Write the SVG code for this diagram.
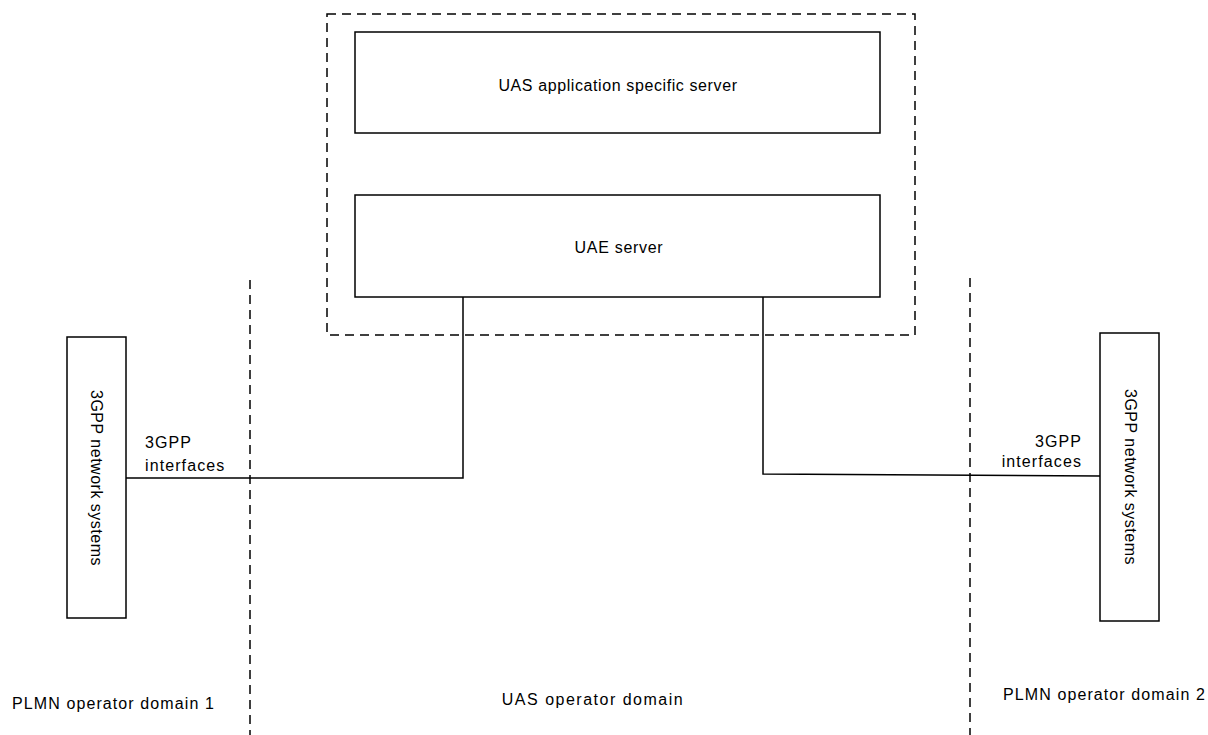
<svg xmlns="http://www.w3.org/2000/svg" width="1208" height="735" viewBox="0 0 1208 735">
<style>
.box{fill:#fff;stroke:#000;stroke-width:1.5}
.dash{fill:none;stroke:#000;stroke-width:1.5;stroke-dasharray:9,6}
.conn{fill:none;stroke:#000;stroke-width:1.5}
text{font-family:"Liberation Sans",Arial,sans-serif;font-size:16px;fill:#000}
.lbl{letter-spacing:1.1px}
.rot{letter-spacing:0.5px}
</style>
<rect width="1208" height="735" fill="#fff"/>
<g id="domains">
<line class="dash" x1="250" y1="280" x2="250" y2="735"/>
<line class="dash" x1="970" y1="278" x2="970" y2="735"/>
<rect id="uas-domain-box" class="dash" x="327" y="14" width="588" height="321"/>
</g>
<g id="connectors">
<polyline class="conn" points="463,297 463,478 126,478"/>
<polyline class="conn" points="763,297 763,474 1100,476"/>
</g>
<g id="uas-app-server">
<rect class="box" x="355" y="32" width="525" height="101"/>
<text x="618" y="91" text-anchor="middle" style="letter-spacing:0.6px">UAS application specific server</text>
</g>
<g id="uae-server">
<rect class="box" x="355" y="195" width="525" height="102"/>
<text x="619" y="253" text-anchor="middle" style="letter-spacing:0.7px">UAE server</text>
</g>
<g id="net-sys-1">
<rect class="box" x="67" y="337" width="59" height="281"/>
<text class="rot" transform="translate(91,478) rotate(90)" text-anchor="middle">3GPP network systems</text>
</g>
<g id="net-sys-2">
<rect class="box" x="1100" y="333" width="59" height="288"/>
<text class="rot" transform="translate(1125,477) rotate(90)" text-anchor="middle">3GPP network systems</text>
</g>
<g id="labels">
<text class="lbl" x="145" y="448">3GPP</text>
<text class="lbl" x="145" y="471">interfaces</text>
<text class="lbl" x="1082" y="447" text-anchor="end">3GPP</text>
<text class="lbl" x="1082" y="467" text-anchor="end">interfaces</text>
<text class="lbl" x="12" y="709">PLMN operator domain 1</text>
<text class="lbl" x="593" y="705" text-anchor="middle" style="letter-spacing:1.5px">UAS operator domain</text>
<text class="lbl" x="1003" y="700">PLMN operator domain 2</text>
</g>
</svg>
